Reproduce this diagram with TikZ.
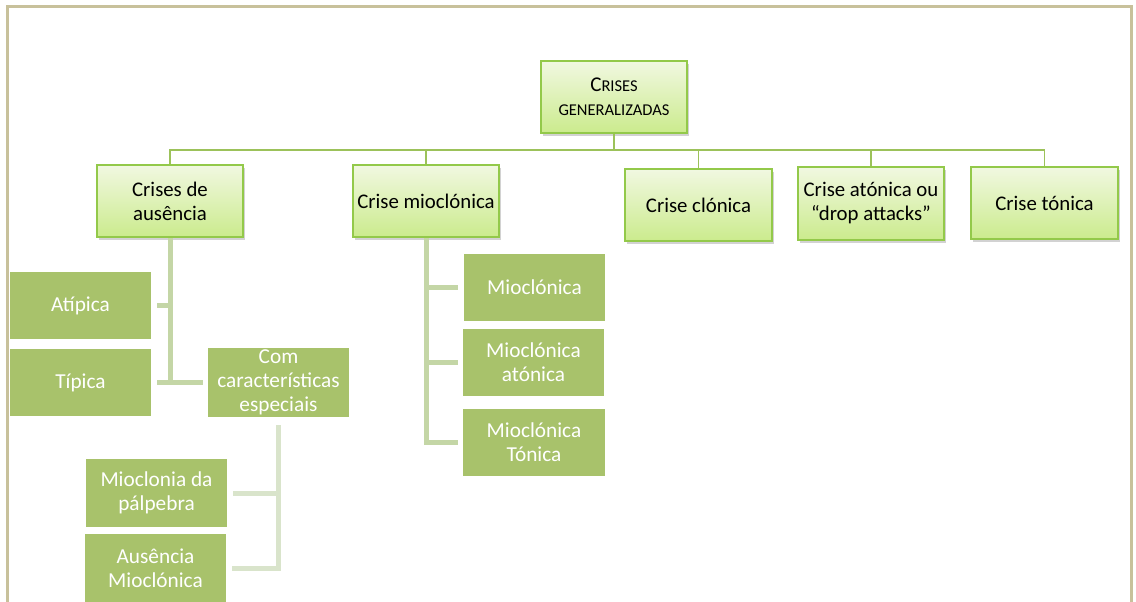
\documentclass[tikz,border=0pt]{standalone}
\usepackage{fontspec}
\setmainfont{Carlito}
\usetikzlibrary{shadows}
\definecolor{frame}{HTML}{C8C19B}
\definecolor{topborder}{HTML}{93C94A}
\definecolor{toptop}{HTML}{F1F8E1}
\definecolor{topbot}{HTML}{CBEB8D}
\definecolor{subfill}{HTML}{A8C26B}
\definecolor{buscol}{HTML}{9CC25A}
\definecolor{lvltwo}{HTML}{C4D6A6}
\definecolor{lvlthree}{HTML}{D9E4CB}
\tikzset{
  topbox/.style={draw=topborder, line width=1.6pt, top color=toptop, bottom color=topbot,
    minimum width=146pt, minimum height=72pt, align=center, inner sep=2pt,
    font=\fontsize{20.8}{24}\selectfont, text=black,
    drop shadow={opacity=0.35, shadow xshift=2pt, shadow yshift=-3pt}},
  subbox/.style={fill=subfill, draw=none, minimum width=141pt, minimum height=67pt,
    align=center, inner sep=2pt, font=\fontsize{21.3}{24}\selectfont, text=white},
  busline/.style={draw=buscol, line width=1.5pt},
  twoline/.style={draw=lvltwo, line width=5pt},
  threeline/.style={draw=lvlthree, line width=5pt},
}
\begin{document}
\begin{tikzpicture}[x=1pt,y=-1pt]
\useasboundingbox (0,0) rectangle (1136,602);
\fill[white] (0,0) rectangle (1136,602);
\draw[frame, line width=3pt] (7,602) -- (7,7) -- (1131,7) -- (1131,602);

\coordinate (bus) at (0,150);

\node[topbox] (root) at (614,97) {{\fontsize{21}{24}\selectfont C}{\fontsize{16.5}{24}\selectfont RISES}\\{\fontsize{16.5}{24}\selectfont GENERALIZADAS}};
\node[topbox] (aus) at (170,201) {Crises de\\ausência};
\node[topbox] (mio) at (426,201) {Crise mioclónica};
\node[topbox, minimum width=147pt] (clo) at (698.5,205) {Crise clónica};
\node[topbox, minimum height=73pt] (ato) at (871,203.5) {Crise atónica ou\\“drop attacks”};
\node[topbox, minimum width=147pt] (ton) at (1044.5,203) {Crise tónica};

\node[subbox] (atip) at (80.5,305.5) {Atípica};
\node[subbox] (tip) at (80.5,382.5) {Típica};
\node[subbox] (com) at (278.5,382.5) {Com\\características\\especiais};
\node[subbox, minimum height=68pt] (palp) at (156.5,493) {Mioclonia da\\pálpebra};
\node[subbox, minimum height=68pt] (ausm) at (155.5,568) {Ausência\\Mioclónica};
\node[subbox] (m1) at (534.5,287.5) {Mioclónica};
\node[subbox] (m2) at (533.5,362.5) {Mioclónica\\atónica};
\node[subbox, minimum width=142pt] (m3) at (534,442.5) {Mioclónica\\Tónica};

% top level bus
\foreach \c in {aus,mio,clo,ato,ton}{
  \draw[busline] (root.south) -- (root.south |- bus) -| (\c.north);
}

% level two: ausencia
\draw[twoline, shorten >=5pt] (aus.south) |- (com.west);
\draw[twoline, shorten >=6pt] (aus.south |- atip.east) -- (atip.east);
\draw[twoline, shorten >=6pt] (aus.south |- tip.east) -- (tip.east);
% level two: mioclonica
\draw[twoline, shorten >=5pt] (mio.south) |- (m3.west);
\draw[twoline, shorten >=6pt] (mio.south |- m1.west) -- (m1.west);
\draw[twoline, shorten >=5pt] (mio.south |- m2.west) -- (m2.west);
% level three
\draw[threeline, shorten <=8pt, shorten >=6pt] (com.south) |- (ausm.east);
\draw[threeline, shorten >=6pt] (com.south |- palp.east) -- (palp.east);
\end{tikzpicture}
\end{document}
